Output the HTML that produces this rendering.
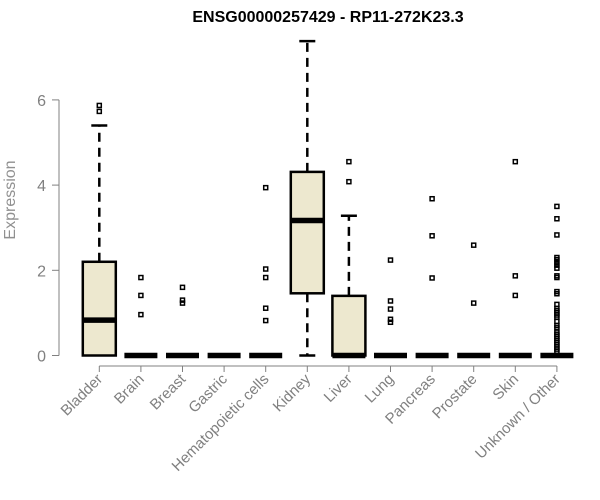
<!DOCTYPE html>
<html><head><meta charset="utf-8"><style>
body{margin:0;background:#fff}
svg{display:block;font-family:"Liberation Sans",Arial,sans-serif}
</style></head><body>
<svg id="chart" width="600" height="500">
<text x="328" y="22" text-anchor="middle" font-weight="bold" font-size="16">ENSG00000257429 - RP11-272K23.3</text>
<text transform="translate(15,200) rotate(-90)" text-anchor="middle" font-size="16" fill="#909090">Expression</text>
<g id="yaxis"></g>
<g id="xaxis"></g>
<g id="boxes"></g>
</svg>
<script>
const categories=["Bladder","Brain","Breast","Gastric","Hematopoietic cells","Kidney","Liver","Lung","Pancreas","Prostate","Skin","Unknown / Other"];
const q1=[0,0,0,0,0,1.46,0,0,0,0,0,0];
const medians=[0.83,0,0,0,0,3.17,0,0,0,0,0,0];
const q3=[2.2,0,0,0,0,4.31,1.4,0,0,0,0,0];
const whiskLo=[0,0,0,0,0,0,0,0,0,0,0,0];
const whiskHi=[5.4,0,0,0,0,7.38,3.28,0,0,0,0,0];
const outliers=[[5.87,5.73],[1.83,1.41,0.96],[1.6,1.3,1.23],[],[3.94,2.03,1.83,1.11,0.82],[],[4.55,4.08],[2.24,1.28,1.09,0.85,0.78],[3.68,2.81,1.82],[2.59,1.23],[4.55,1.87,1.41],[3.5,3.21,2.83,2.3,2.25,2.18,2.12,2.05,1.87,1.83,1.5,1.45,1.2,1.1,1.05,1.0,0.95,0.9,0.8,0.7,0.65,0.55,0.5,0.45,0.4,0.35,0.3,0.25,0.2,0.15,0.1]];
const yTicks=[0,2,4,6];
const NS="http://www.w3.org/2000/svg";
const y0=355.5,yk=42.6;
const ys=v=>y0-v*yk;
const xs=i=>99.3+41.6*i;
function mk(t,a,p){const e=document.createElementNS(NS,t);for(const k in a)e.setAttribute(k,a[k]);p.appendChild(e);return e;}
const ya=document.getElementById('yaxis');
mk('line',{x1:59,x2:59,y1:ys(0),y2:ys(6),stroke:'#808080'},ya);
yTicks.forEach(v=>{
 const l=mk('line',{x1:52,x2:59,y1:ys(v),y2:ys(v),stroke:'#808080'},ya);
 
 
 const t=mk('text',{x:46,y:ys(v)+6,'text-anchor':'end','font-size':16,fill:'#808080'},ya);
 t.textContent=v;
 
 
});
const xa=document.getElementById('xaxis');
mk('line',{x1:xs(0),x2:xs(11),y1:366,y2:366,stroke:'#808080'},xa);
categories.forEach((c,i)=>{
 const x=xs(i);
 mk('line',{x1:x,x2:x,y1:366,y2:372,stroke:'#808080'},xa);
 const t=mk('text',{transform:`translate(${x+4},${380}) rotate(-45)`,'text-anchor':'end','font-size':15,fill:'#808080'},xa);
 t.textContent=c;
 
 
});
const bx=document.getElementById('boxes');
categories.forEach((c,i)=>{
 const x=xs(i),hw=16.5;
 const g=mk('g',{},bx);
 
 
 if(whiskHi[i]>q3[i]){
  mk('line',{x1:x,x2:x,y1:ys(q3[i]),y2:ys(whiskHi[i]),stroke:'#000','stroke-width':2.5,'stroke-dasharray':'9,6'},g);
  mk('line',{x1:x-8,x2:x+8,y1:ys(whiskHi[i]),y2:ys(whiskHi[i]),stroke:'#000','stroke-width':2.5},g);
 }
 if(q1[i]>whiskLo[i]){
  mk('line',{x1:x,x2:x,y1:ys(q1[i]),y2:ys(whiskLo[i]),stroke:'#000','stroke-width':2.5,'stroke-dasharray':'9,6'},g);
  mk('line',{x1:x-8,x2:x+8,y1:ys(whiskLo[i]),y2:ys(whiskLo[i]),stroke:'#000','stroke-width':2.5},g);
 }
 if(q3[i]>q1[i]) mk('rect',{x:x-hw,y:ys(q3[i]),width:2*hw,height:ys(q1[i])-ys(q3[i]),fill:'#ede8cf',stroke:'#000','stroke-width':2.5},g);
 mk('line',{x1:x-hw,x2:x+hw,y1:ys(medians[i]),y2:ys(medians[i]),stroke:'#000','stroke-width':5.5},g);
 outliers[i].forEach(v=>{
  const p=mk('rect',{x:x-2,y:ys(v)-2,width:4,height:4,fill:'none',stroke:'#000','stroke-width':1.5},g);
  
  
 });
});
</script>
</body></html>
